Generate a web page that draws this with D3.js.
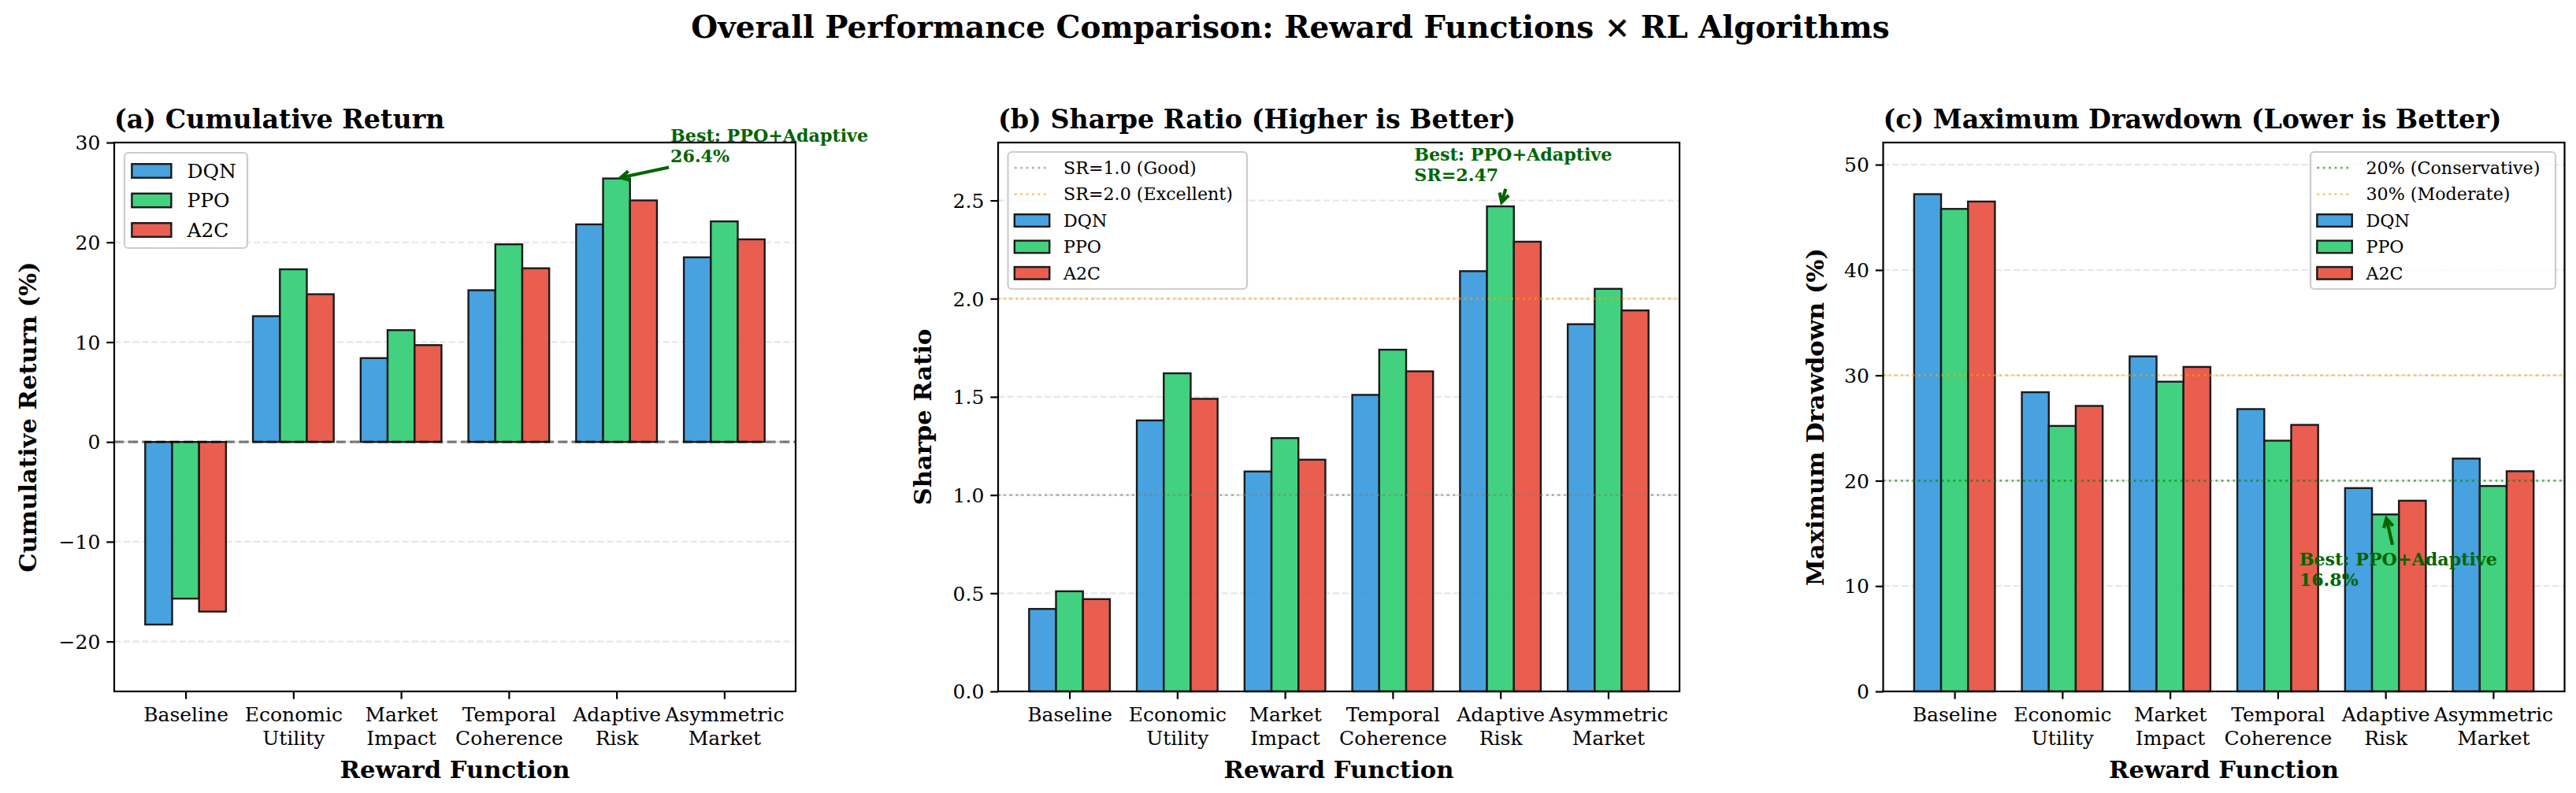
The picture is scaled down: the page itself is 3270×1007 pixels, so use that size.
<!DOCTYPE html>
<html>
<head>
<meta charset="utf-8">
<script src="https://cdn.jsdelivr.net/npm/d3@7"></script>
<style>
  body { margin: 0; background: #fff; }
  svg { display: block; font-family: "DejaVu Serif", serif; }
</style>
</head>
<body>
<svg id="chart" width="3270" height="1007"></svg>
<script>
// data
var categories = ["Baseline", "Economic\nUtility", "Market\nImpact", "Temporal\nCoherence", "Adaptive\nRisk", "Asymmetric\nMarket"];
var algorithms = ["DQN", "PPO", "A2C"];
var colors = ["#3498db", "#2ecc71", "#e74c3c"];

var returnDQN = [-18.3, 12.6, 8.4, 15.2, 21.8, 18.5];
var returnPPO = [-15.7, 17.3, 11.2, 19.8, 26.4, 22.1];
var returnA2C = [-17.0, 14.8, 9.7, 17.4, 24.2, 20.3];

var sharpeDQN = [0.42, 1.38, 1.12, 1.51, 2.14, 1.87];
var sharpePPO = [0.51, 1.62, 1.29, 1.74, 2.47, 2.05];
var sharpeA2C = [0.47, 1.49, 1.18, 1.63, 2.29, 1.94];

var drawdownDQN = [47.2, 28.4, 31.8, 26.8, 19.3, 22.1];
var drawdownPPO = [45.8, 25.2, 29.4, 23.8, 16.8, 19.5];
var drawdownA2C = [46.5, 27.1, 30.8, 25.3, 18.1, 20.9];

var returnTicks = [-20, -10, 0, 10, 20, 30];
var sharpeTicks = [0, 0.5, 1.0, 1.5, 2.0, 2.5];
var drawdownTicks = [0, 10, 20, 30, 40, 50];

var svg = d3.select("#chart");
var top_ = 181, bottom = 878, pw = 865;
var fmtMinus = function(d) { return d3.format("d")(d).replace("-", "\u2212"); };

svg.append("text")
    .attr("x", 1638).attr("y", 48)
    .attr("text-anchor", "middle")
    .attr("font-size", 38.9).attr("font-weight", "bold")
    .text("Overall Performance Comparison: Reward Functions \u00d7 RL Algorithms");

var panels = [
  { left: 145, title: "(a) Cumulative Return", ylabel: "Cumulative Return (%)", ylx: 35,
    series: [returnDQN, returnPPO, returnA2C], domain: [-25, 30], ticks: returnTicks, fmt: fmtMinus,
    refs: [{ v: 0, color: "#000", op: 0.5, dash: "12.3,5.3", w: 3.3 }],
    legend: { x: 158, y: 194, w: 156, h: 121, fs: 25, rows: [], rowGap: 37.5 },
    note: { xy: [4, 26.4], at: [4.5, 28], lines: ["Best: PPO+Adaptive", "26.4%"] } },
  { left: 1267, title: "(b) Sharpe Ratio (Higher is Better)", ylabel: "Sharpe Ratio", ylx: 1171,
    series: [sharpeDQN, sharpePPO, sharpeA2C], domain: [0, 2.795], ticks: sharpeTicks, fmt: d3.format(".1f"),
    refs: [{ v: 1.0, color: "#808080", op: 0.6, dash: "2.8,4.6", w: 2.8, label: "SR=1.0 (Good)" },
           { v: 2.0, color: "#ffa500", op: 0.6, dash: "2.8,4.6", w: 2.8, label: "SR=2.0 (Excellent)" }],
    legend: { x: 1279.5, y: 193, w: 303.5, h: 174, fs: 22.2, rowGap: 33.4 },
    note: { xy: [4, 2.47], at: [3.2, 2.6], lines: ["Best: PPO+Adaptive", "SR=2.47"] } },
  { left: 2390.5, title: "(c) Maximum Drawdown (Lower is Better)", ylabel: "Maximum Drawdown (%)", ylx: 2304,
    series: [drawdownDQN, drawdownPPO, drawdownA2C], domain: [0, 52.1], ticks: drawdownTicks, fmt: d3.format("d"),
    refs: [{ v: 20, color: "#008000", op: 0.6, dash: "2.8,4.6", w: 2.8, label: "20% (Conservative)" },
           { v: 30, color: "#ffa500", op: 0.6, dash: "2.8,4.6", w: 2.8, label: "30% (Moderate)" }],
    legend: { x: 2933, y: 193, w: 311, h: 174, fs: 22.2, rowGap: 33.4 },
    note: { xy: [4, 16.8], at: [3.2, 10], lines: ["Best: PPO+Adaptive", "16.8%"] } }
];

panels.forEach(function(p) {
  var x = d3.scaleLinear().domain([-0.6625, categories.length - 1 + 0.6625]).range([p.left, p.left + pw]);
  var y = d3.scaleLinear().domain(p.domain).range([bottom, top_]);
  var g = svg.append("g");

  // grid
  g.selectAll(".grid").data(p.ticks).enter().append("line")
      .attr("x1", p.left).attr("x2", p.left + pw)
      .attr("y1", function(d) { return y(d); }).attr("y2", function(d) { return y(d); })
      .attr("stroke", "#b0b0b0").attr("stroke-opacity", 0.3)
      .attr("stroke-width", 2.2).attr("stroke-dasharray", "8.2,3.6");

  // bars
  var bw = x(0.25) - x(0);
  p.series.forEach(function(vals, si) {
    g.selectAll(".bar" + si).data(vals).enter().append("rect")
        .attr("x", function(d, i) { return x(i + (si - 1) * 0.25) - bw / 2; })
        .attr("y", function(d) { return y(Math.max(0, d)); })
        .attr("width", bw)
        .attr("height", function(d) { return Math.abs(y(d) - y(0)); })
        .attr("fill", colors[si]).attr("fill-opacity", 0.9)
        .attr("stroke", "#1a1a1a").attr("stroke-width", 2.4);
  });

  // reference lines
  p.refs.forEach(function(r) {
    g.append("line")
        .attr("x1", p.left).attr("x2", p.left + pw)
        .attr("y1", y(r.v)).attr("y2", y(r.v))
        .attr("stroke", r.color).attr("stroke-opacity", r.op)
        .attr("stroke-width", r.w).attr("stroke-dasharray", r.dash);
  });

  // axes
  var ya = g.append("g").attr("transform", "translate(" + p.left + ",0)")
      .call(d3.axisLeft(y).tickValues(p.ticks).tickFormat(p.fmt).tickSize(9.7).tickPadding(8));
  var xa = g.append("g").attr("transform", "translate(0," + bottom + ")")
      .call(d3.axisBottom(x).tickValues(d3.range(categories.length)).tickFormat("").tickSize(9.7));
  [ya, xa].forEach(function(a) {
    a.attr("font-family", "DejaVu Serif").attr("font-size", 25);
    a.select(".domain").remove();
    a.selectAll(".tick line").attr("stroke", "#000").attr("stroke-width", 2.2);
    a.selectAll("text").attr("fill", "#000");
  });
  ya.selectAll("text").attr("dy", "0.35em");

  xa.selectAll(".tick").each(function(d) {
    var t = d3.select(this).append("text")
        .attr("text-anchor", "middle").attr("fill", "#000");
    categories[d].split("\n").forEach(function(line, li) {
      t.append("tspan").attr("x", 0).attr("y", 38 + li * 30).text(line);
    });
  });

  // frame
  g.append("rect")
      .attr("x", p.left).attr("y", top_).attr("width", pw).attr("height", bottom - top_)
      .attr("fill", "none").attr("stroke", "#000").attr("stroke-width", 2.2);

  // titles and labels
  g.append("text").attr("x", p.left).attr("y", 163)
      .attr("font-size", 33.3).attr("font-weight", "bold").text(p.title);
  g.append("text").attr("x", p.left + pw / 2).attr("y", 988)
      .attr("text-anchor", "middle").attr("font-size", 30.6).attr("font-weight", "bold")
      .text("Reward Function");
  g.append("text")
      .attr("transform", "translate(" + (p.ylx + 11) + "," + (top_ + bottom) / 2 + ") rotate(-90)")
      .attr("text-anchor", "middle").attr("font-size", 30.6).attr("font-weight", "bold")
      .text(p.ylabel);

  // legend
  var L = p.legend;
  var lg = g.append("g");
  lg.append("rect").attr("x", L.x).attr("y", L.y).attr("width", L.w).attr("height", L.h)
      .attr("rx", 5).attr("fill", "#fff").attr("fill-opacity", 0.8)
      .attr("stroke", "#cccccc").attr("stroke-width", 2.2);
  var items = p.refs.filter(function(r) { return r.label; }).map(function(r) { return { line: r, label: r.label }; })
      .concat(algorithms.map(function(a, i) { return { color: colors[i], label: a }; }));
  var hl = 2 * L.fs, hh = 0.7 * L.fs;
  var hx = L.x + 0.375 * L.fs;
  var firstRow = L.y + L.h / 2 - (items.length - 1) * L.rowGap / 2;
  items.forEach(function(it, i) {
    var cy = firstRow + i * L.rowGap;
    if (it.line) {
      lg.append("line").attr("x1", hx).attr("x2", hx + hl).attr("y1", cy).attr("y2", cy)
          .attr("stroke", it.line.color).attr("stroke-opacity", it.line.op)
          .attr("stroke-width", it.line.w).attr("stroke-dasharray", it.line.dash);
    } else {
      lg.append("rect").attr("x", hx).attr("y", cy - hh / 2).attr("width", hl).attr("height", hh)
          .attr("fill", it.color).attr("fill-opacity", 0.9)
          .attr("stroke", "#1a1a1a").attr("stroke-width", 2.4);
    }
    lg.append("text").attr("x", hx + hl + 0.8 * L.fs).attr("y", cy).attr("dy", "0.35em")
        .attr("font-size", L.fs).text(it.label);
  });

  // annotation
  var n = p.note, fs = 22.2, lh = 26;
  var tx = x(n.at[0]), ty = y(n.at[1]);
  var nt = g.append("text").attr("font-size", fs).attr("font-weight", "bold").attr("fill", "#006400");
  n.lines.forEach(function(line, li) {
    nt.append("tspan").attr("x", tx).attr("y", ty - (n.lines.length - 1 - li) * lh).text(line);
  });
  var bb = nt.node().getBBox();
  var cx = bb.x + bb.width / 2, cy = bb.y + bb.height / 2;
  var px = x(n.xy[0]), py = y(n.xy[1]);
  var dx = px - cx, dy = py - cy;
  var tEdge = Math.min(Math.abs((bb.width / 2) / (dx || 1e-9)), Math.abs((bb.height / 2) / (dy || 1e-9)));
  var len = Math.sqrt(dx * dx + dy * dy), ux = dx / len, uy = dy / len;
  var sx = cx + dx * tEdge + ux * 5.5, sy = cy + dy * tEdge + uy * 5.5;
  var ex = px - ux * 5.5, ey = py - uy * 5.5;
  var hL = 11, hW = 6;
  g.append("line").attr("x1", sx).attr("y1", sy).attr("x2", ex).attr("y2", ey)
      .attr("stroke", "#006400").attr("stroke-width", 4.2);
  g.append("path")
      .attr("d", "M" + (ex - ux * hL - uy * hW) + "," + (ey - uy * hL + ux * hW) +
                 "L" + ex + "," + ey +
                 "L" + (ex - ux * hL + uy * hW) + "," + (ey - uy * hL - ux * hW))
      .attr("fill", "none").attr("stroke", "#006400").attr("stroke-width", 4.2)
      .attr("stroke-linejoin", "miter");
});
</script>
</body>
</html>
